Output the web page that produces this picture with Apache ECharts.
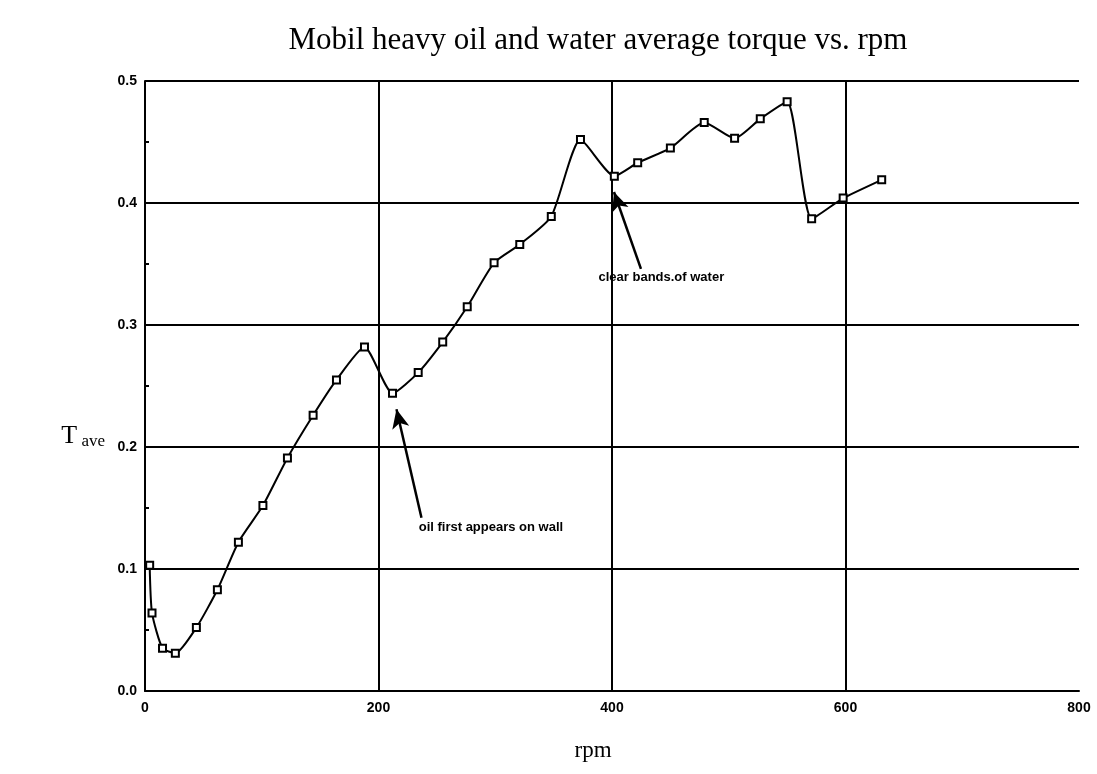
<!DOCTYPE html>
<html>
<head>
<meta charset="utf-8">
<script src="https://cdn.jsdelivr.net/npm/echarts@6/dist/echarts.min.js"></script>
<style>
  html, body { margin: 0; padding: 0; background: #fff; }
  #chart { width: 1097px; height: 774px; }
</style>
</head>
<body>
<div id="chart"></div>
<script>
// rpm / average torque
var rpm = [4, 6, 15, 26, 44, 62, 80, 101, 122, 144, 164, 188, 212, 234,
  255, 276, 299, 321, 348, 373, 402, 422, 450, 479, 505, 527, 550, 571, 598, 631];
var torque = [0.103, 0.064, 0.035, 0.031, 0.052, 0.083, 0.122, 0.152, 0.191, 0.226,
  0.255, 0.282, 0.244, 0.261, 0.286, 0.315, 0.351, 0.366, 0.389, 0.452, 0.422,
  0.433, 0.445, 0.466, 0.453, 0.469, 0.483, 0.387, 0.404, 0.419];
var xTicks = [0, 200, 400, 600, 800];
var yTicks = [0.0, 0.1, 0.2, 0.3, 0.4, 0.5];

var points = rpm.map(function (r, i) { return [r, torque[i]]; });
var sans = "Liberation Sans, Arial, sans-serif";
var serif = "Liberation Serif, Times New Roman, serif";

var chart = echarts.init(document.getElementById("chart"));
chart.setOption({
  backgroundColor: "#fff",
  animation: false,
  title: {
    text: "Mobil heavy oil and water average torque vs. rpm",
    left: 593,
    top: 20,
    textAlign: "center",
    textStyle: { fontFamily: serif, fontWeight: "normal", fontSize: 31, color: "#000" }
  },
  grid: { left: 145, right: 18, top: 81, bottom: 83 },
  xAxis: {
    type: "value",
    min: 0,
    max: 800,
    interval: 200,
    name: "rpm",
    nameLocation: "middle",
    nameGap: 48,
    nameTextStyle: { fontFamily: serif, fontSize: 23, color: "#000", padding: [0, 0, 0, -38] },
    axisLine: { show: true, lineStyle: { color: "#000", width: 2 } },
    axisTick: { show: false },
    axisLabel: {
      margin: 10, fontFamily: sans, fontWeight: "bold", fontSize: 14, color: "#000",
      formatter: function (v) { return xTicks.indexOf(v) >= 0 ? String(v) : ""; }
    },
    splitLine: { show: true, showMaxLine: false, lineStyle: { color: "#000", width: 2 } }
  },
  yAxis: {
    type: "value",
    min: 0,
    max: 0.5,
    interval: 0.1,
    name: "{t|T}{s| ave}",
    nameLocation: "middle",
    nameRotate: 0,
    nameGap: 40,
    nameTextStyle: {
      padding: [0, 0, -100, 0],
      rich: {
        t: { fontFamily: serif, fontSize: 26, color: "#000" },
        s: { fontFamily: serif, fontSize: 17, color: "#000", padding: [12, 0, 0, 0] }
      }
    },
    axisLine: { show: true, lineStyle: { color: "#000", width: 2 } },
    axisTick: { show: false, inside: true },
    minorTick: { show: true, splitNumber: 2, length: 4, lineStyle: { color: "#000", width: 2 } },
    axisLabel: {
      margin: 8, fontFamily: sans, fontWeight: "bold", fontSize: 14, color: "#000",
      formatter: function (v) {
        var t = yTicks.filter(function (y) { return Math.abs(y - v) < 1e-9; });
        return t.length ? t[0].toFixed(1) : "";
      }
    },
    splitLine: { show: true, lineStyle: { color: "#000", width: 2 } }
  },
  series: [
    {
      type: "line",
      data: points,
      smooth: 0.2,
      symbol: "emptyRect",
      symbolSize: 7,
      lineStyle: { color: "#000", width: 2 },
      itemStyle: { color: "#000", borderColor: "#000", borderWidth: 1.5 },
      markLine: {
        silent: true,
        symbol: ["none", "arrow"],
        symbolSize: [13, 19],
        label: { show: false },
        lineStyle: { color: "#000", width: 2.5, type: "solid" },
        data: [
          [{ coord: [236.8, 0.142] }, { coord: [215.4, 0.231] }],
          [{ coord: [424.8, 0.346] }, { coord: [401.7, 0.409] }]
        ]
      },
      markPoint: {
        silent: true,
        symbol: "rect",
        symbolSize: 1,
        itemStyle: { color: "rgba(0,0,0,0)" },
        label: {
          show: true, position: "right", distance: 0,
          fontFamily: sans, fontWeight: "bold", fontSize: 13, color: "#000"
        },
        data: [
          { coord: [234, 0.134], label: { formatter: "oil first appears on wall" } },
          { coord: [388, 0.339], label: { formatter: "clear bands.of water" } }
        ]
      }
    }
  ]
});
</script>
</body>
</html>
